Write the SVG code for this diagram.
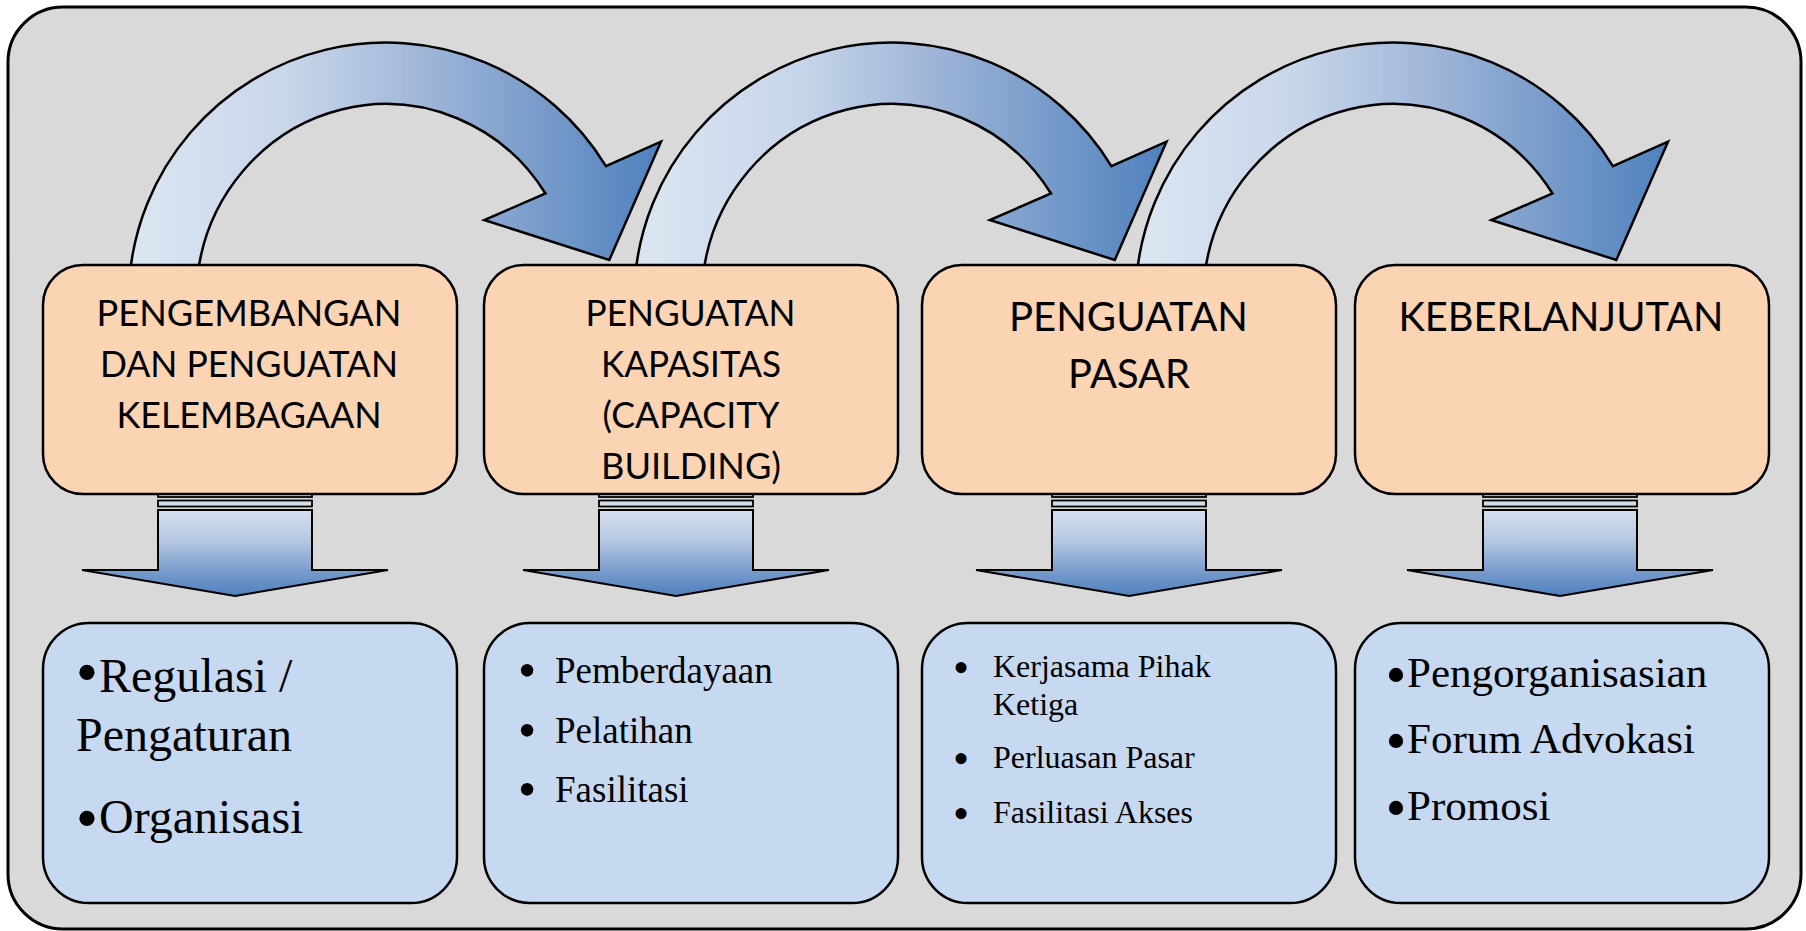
<svg xmlns="http://www.w3.org/2000/svg" xmlns:xlink="http://www.w3.org/1999/xlink" width="1806" height="931" viewBox="0 0 1806 931">
  <defs>
    <style>
      .frame { fill: #d9d9d9; stroke: #000; stroke-width: 3; }
      .obox { fill: #fbd4b4; stroke: #000; stroke-width: 2.5; }
      .bbox { fill: #c6d9f1; stroke: #000; stroke-width: 2.5; }
      .arc { fill: url(#gArc); stroke: #000; stroke-width: 2.5; stroke-linejoin: miter; }
      .dbody { fill: url(#gDown); stroke: #000; stroke-width: 2; }
      .stripe { fill: #d3deed; stroke: #000; stroke-width: 1.8; }
      .ot { font-family: Lato, "Open Sans", sans-serif; font-size: 37px; fill: #000; text-anchor: middle; }
      .ot2 { font-family: Lato, "Open Sans", sans-serif; font-size: 41px; fill: #000; text-anchor: middle; }
      .serif { font-family: "Liberation Serif", "Times New Roman", serif; fill: #000; }
      .bul { text-anchor: middle; }
      .s48 { font-size: 48px; }
      .s37 { font-size: 37px; }
      .s32 { font-size: 32px; }
      .s43 { font-size: 43px; }
      .b1 { font-size: 64px; }
      .b2 { font-size: 52px; }
      .b3 { font-size: 46px; }
      .b4 { font-size: 60px; }
    </style>
    <linearGradient id="gArc" x1="0" y1="0" x2="1" y2="0">
      <stop offset="0" stop-color="#dce6f2"/>
      <stop offset="0.3" stop-color="#c8d6ea"/>
      <stop offset="0.55" stop-color="#a0b6d8"/>
      <stop offset="1" stop-color="#4f81bd"/>
    </linearGradient>
    <linearGradient id="gDown" x1="0" y1="0" x2="0" y2="1">
      <stop offset="0" stop-color="#d5e0ef"/>
      <stop offset="0.35" stop-color="#b6c8e2"/>
      <stop offset="0.75" stop-color="#7397cb"/>
      <stop offset="1" stop-color="#4f81bd"/>
    </linearGradient>
    <path id="curved" class="arc" d="M 129.3 280 A 257.5 257.5 0 0 1 605.9 166.1 L 661 141.7 L 609.3 260 L 484.3 220 L 545.5 193.5 A 190 196 0 0 0 197 280 Z"/>
    <g id="down">
      <rect class="stripe" x="-77" y="487" width="154" height="10"/>
      <rect class="stripe" x="-77" y="500.5" width="154" height="6"/>
      <path class="dbody" d="M -77 510 L 77 510 L 77 570 L 153 570 L 0 596 L -153 570 L -77 570 Z"/>
    </g>
  </defs>

  <rect class="frame" x="8" y="7" width="1793" height="922" rx="55" ry="55"/>

  <g id="connectors">
    <use xlink:href="#curved" href="#curved"/>
    <use xlink:href="#curved" href="#curved" transform="translate(505.5 0)"/>
    <use xlink:href="#curved" href="#curved" transform="translate(1007 0)"/>
    <use xlink:href="#down" href="#down" transform="translate(235 0)"/>
    <use xlink:href="#down" href="#down" transform="translate(676 0)"/>
    <use xlink:href="#down" href="#down" transform="translate(1129 0)"/>
    <use xlink:href="#down" href="#down" transform="translate(1560 0)"/>
  </g>

  <g id="node-pengembangan">
    <rect class="obox" x="43" y="265" width="414" height="229" rx="40" ry="40"/>
    <text class="ot" x="249" y="326" textLength="305" lengthAdjust="spacingAndGlyphs">PENGEMBANGAN</text>
    <text class="ot" x="249" y="377" textLength="298" lengthAdjust="spacingAndGlyphs">DAN PENGUATAN</text>
    <text class="ot" x="249" y="428" textLength="265" lengthAdjust="spacingAndGlyphs">KELEMBAGAAN</text>
  </g>
  <g id="node-kapasitas">
    <rect class="obox" x="484" y="265" width="414" height="229" rx="40" ry="40"/>
    <text class="ot" x="690.5" y="326" textLength="210" lengthAdjust="spacingAndGlyphs">PENGUATAN</text>
    <text class="ot" x="691" y="377" textLength="180" lengthAdjust="spacingAndGlyphs">KAPASITAS</text>
    <text class="ot" x="691" y="428" textLength="177" lengthAdjust="spacingAndGlyphs">(CAPACITY</text>
    <text class="ot" x="691" y="479" textLength="180" lengthAdjust="spacingAndGlyphs">BUILDING)</text>
  </g>
  <g id="node-pasar">
    <rect class="obox" x="922" y="265" width="414" height="229" rx="40" ry="40"/>
    <text class="ot2" x="1128.5" y="331" textLength="239" lengthAdjust="spacingAndGlyphs">PENGUATAN</text>
    <text class="ot2" x="1129" y="388" textLength="122" lengthAdjust="spacingAndGlyphs">PASAR</text>
  </g>
  <g id="node-keberlanjutan">
    <rect class="obox" x="1355" y="265" width="414" height="229" rx="40" ry="40"/>
    <text class="ot2" x="1561" y="331" textLength="325" lengthAdjust="spacingAndGlyphs">KEBERLANJUTAN</text>
  </g>

  <g id="list-kelembagaan">
    <rect class="bbox" x="43" y="623" width="414" height="280" rx="46" ry="46"/>
    <text class="serif b1 bul" x="87" y="694">•</text>
    <text class="serif s48" x="99" y="692">Regulasi /</text>
    <text class="serif s48" x="76" y="751">Pengaturan</text>
    <text class="serif b1 bul" x="87" y="840">•</text>
    <text class="serif s48" x="99" y="833">Organisasi</text>
  </g>
  <g id="list-kapasitas">
    <rect class="bbox" x="484" y="623" width="414" height="280" rx="46" ry="46"/>
    <text class="serif b2 bul" x="527" y="688">•</text>
    <text class="serif s37" x="555" y="683">Pemberdayaan</text>
    <text class="serif b2 bul" x="527" y="748">•</text>
    <text class="serif s37" x="555" y="743">Pelatihan</text>
    <text class="serif b2 bul" x="527" y="807">•</text>
    <text class="serif s37" x="555" y="802">Fasilitasi</text>
  </g>
  <g id="list-pasar">
    <rect class="bbox" x="922" y="623" width="414" height="280" rx="46" ry="46"/>
    <text class="serif b3 bul" x="961" y="683">•</text>
    <text class="serif s32" x="993" y="677">Kerjasama Pihak</text>
    <text class="serif s32" x="993" y="715">Ketiga</text>
    <text class="serif b3 bul" x="961" y="774">•</text>
    <text class="serif s32" x="993" y="768">Perluasan Pasar</text>
    <text class="serif b3 bul" x="961" y="829">•</text>
    <text class="serif s32" x="993" y="823">Fasilitasi Akses</text>
  </g>
  <g id="list-keberlanjutan">
    <rect class="bbox" x="1355" y="623" width="414" height="280" rx="46" ry="46"/>
    <text class="serif b4 bul" x="1396" y="695">•</text>
    <text class="serif s43" x="1407" y="687">Pengorganisasian</text>
    <text class="serif b4 bul" x="1396" y="761">•</text>
    <text class="serif s43" x="1407" y="753">Forum Advokasi</text>
    <text class="serif b4 bul" x="1396" y="828">•</text>
    <text class="serif s43" x="1407" y="820">Promosi</text>
  </g>
</svg>
